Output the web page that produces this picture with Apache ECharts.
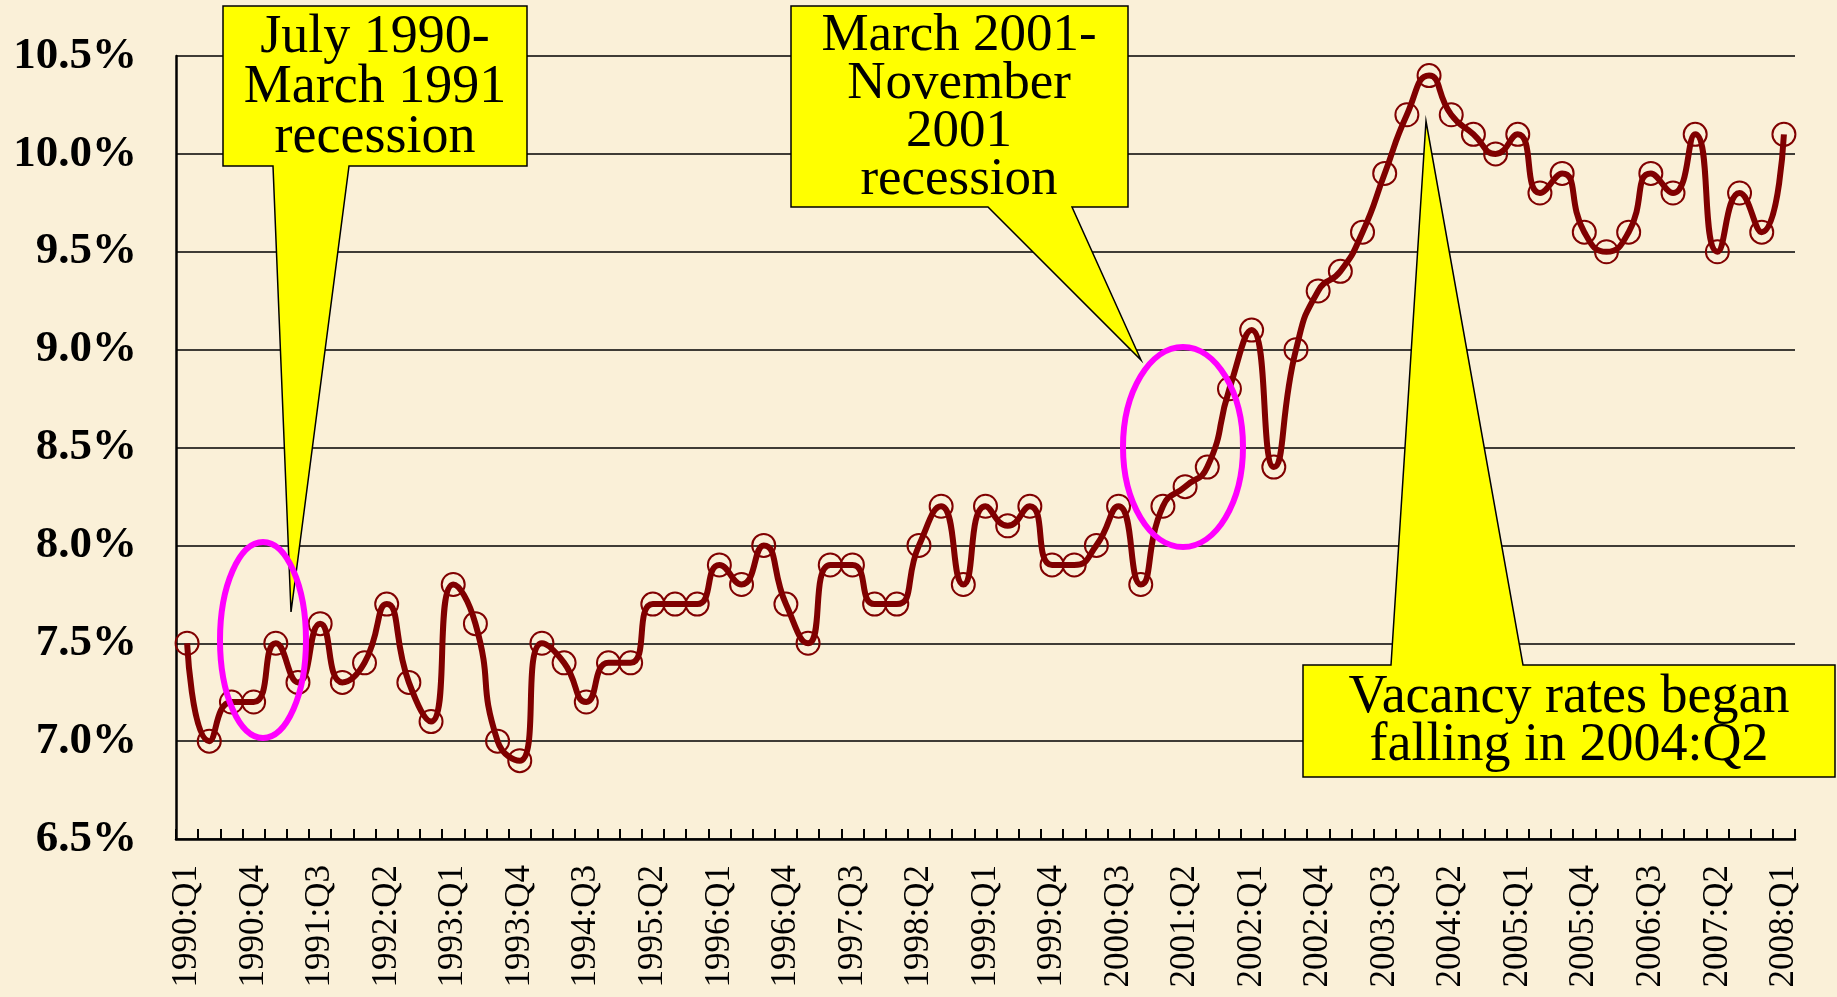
<!DOCTYPE html>
<html>
<head>
<meta charset="utf-8">
<title>Vacancy rate 1990-2008</title>
<script src="https://cdn.jsdelivr.net/npm/echarts@6/dist/echarts.min.js"></script>
<style>
  html, body { margin: 0; padding: 0; background: #FAF0D8; }
  #chart { width: 1837px; height: 997px; }
</style>
</head>
<body>
<div id="chart"></div>
<script>
// quarters 1990:Q1 .. 2008:Q1
var quarters = [];
for (var y = 1990; y <= 2008; y++) {
  for (var q = 1; q <= 4; q++) {
    if (y === 2008 && q > 1) break;
    quarters.push(y + ':Q' + q);
  }
}

// vacancy rate, percent
var vacancyRate = [
  7.5, 7.0, 7.2, 7.2,   7.5, 7.3, 7.6, 7.3,   7.4, 7.7, 7.3, 7.1,
  7.8, 7.6, 7.0, 6.9,   7.5, 7.4, 7.2, 7.4,   7.4, 7.7, 7.7, 7.7,
  7.9, 7.8, 8.0, 7.7,   7.5, 7.9, 7.9, 7.7,   7.7, 8.0, 8.2, 7.8,
  8.2, 8.1, 8.2, 7.9,   7.9, 8.0, 8.2, 7.8,   8.2, 8.3, 8.4, 8.8,
  9.1, 8.4, 9.0, 9.3,   9.4, 9.6, 9.9, 10.2,  10.4, 10.2, 10.1, 10.0,
  10.1, 9.8, 9.9, 9.6,  9.5, 9.6, 9.9, 9.8,   10.1, 9.5, 9.8, 9.6,
  10.1
];

var yTicks = [6.5, 7.0, 7.5, 8.0, 8.5, 9.0, 9.5, 10.0, 10.5];

var serif = 'Liberation Serif';
var chart = echarts.init(document.getElementById('chart'));

// callout outlines: box + pointer
function callout(points) {
  return {
    type: 'polygon',
    z: 100,
    shape: { points: points },
    style: { fill: '#FFFF00', stroke: '#000', lineWidth: 1.5 }
  };
}
function calloutText(x, y, text, lh, size) {
  return {
    type: 'text',
    z: 101,
    x: x, y: y,
    style: {
      text: text,
      fill: '#000',
      font: size + 'px "' + serif + '"',
      lineHeight: lh,
      align: 'center',
      verticalAlign: 'middle'
    }
  };
}
function ring(cx, cy, rx, ry) {
  return {
    type: 'ellipse',
    z: 102,
    shape: { cx: cx, cy: cy, rx: rx, ry: ry },
    style: { fill: 'none', stroke: '#FF00FF', lineWidth: 6 }
  };
}

var option = {
  backgroundColor: '#FAF0D8',
  animation: false,
  grid: { left: 176, right: 42, top: 56, bottom: 158, containLabel: false },
  xAxis: {
    type: 'category',
    data: quarters,
    boundaryGap: true,
    axisLine: { lineStyle: { color: '#000', width: 2.5 } },
    axisTick: { show: true, inside: true, length: 10, interval: 0, lineStyle: { color: '#000', width: 2 } },
    axisLabel: {
      interval: 2,
      rotate: 90,
      margin: 26,
      color: '#000',
      fontFamily: serif,
      fontSize: 35
    },
    splitLine: { show: false }
  },
  yAxis: {
    type: 'value',
    min: yTicks[0],
    max: yTicks[yTicks.length - 1],
    interval: 0.5,
    axisLine: { show: true, lineStyle: { color: '#000', width: 2.5 } },
    axisTick: { show: false },
    axisLabel: {
      margin: 39,
      color: '#000',
      fontFamily: serif,
      fontWeight: 'bold',
      fontSize: 45,
      formatter: function (v) { return v.toFixed(1) + '%'; }
    },
    splitLine: { show: true, lineStyle: { color: '#000', width: 1.5 } }
  },
  series: [{
    type: 'line',
    data: vacancyRate,
    smooth: 0.55,
    symbol: 'circle',
    symbolSize: 23,
    showAllSymbol: true,
    lineStyle: { color: '#800000', width: 6 },
    itemStyle: { color: 'rgba(0,0,0,0)', borderColor: '#800000', borderWidth: 2 },
    z: 3
  }],
  graphic: [
    callout([[223, 6], [527, 6], [527, 166], [349, 166], [291, 612], [273, 166], [223, 166]]),
    calloutText(375, 88, 'July 1990-\nMarch 1991\nrecession', 50, 54),
    callout([[791, 6], [1128, 6], [1128, 207], [1072, 207], [1141, 360], [988, 207], [791, 207]]),
    calloutText(959, 108, 'March 2001-\nNovember\n2001\nrecession', 48, 53),
    callout([[1303, 665], [1391, 665], [1426, 121], [1523, 665], [1835, 665], [1835, 777], [1303, 777]]),
    calloutText(1569, 722, 'Vacancy rates began\nfalling in 2004:Q2', 48, 54),
    ring(263, 640, 43, 98),
    ring(1183, 447, 60, 100)
  ]
};

chart.setOption(option);
</script>
</body>
</html>
